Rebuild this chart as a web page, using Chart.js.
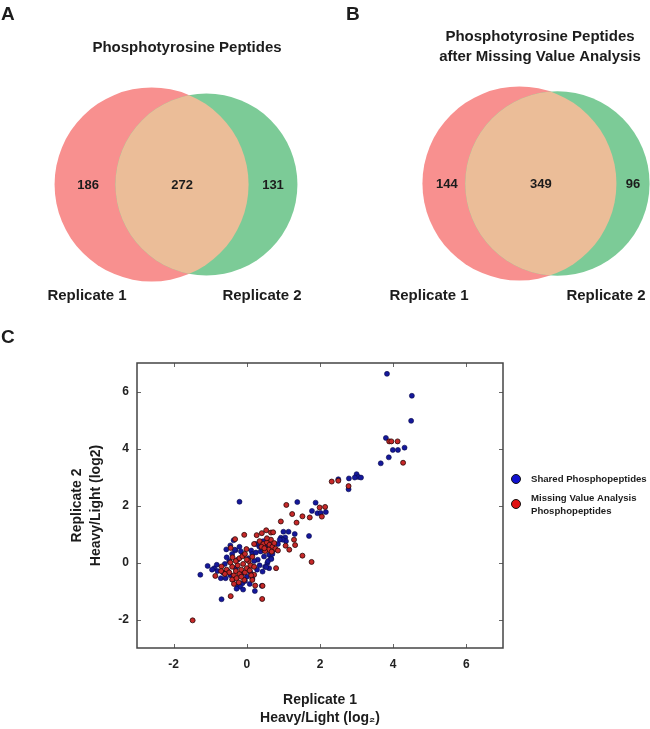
<!DOCTYPE html>
<html>
<head>
<meta charset="utf-8">
<script src="https://cdn.jsdelivr.net/npm/chart.js@4.4.1/dist/chart.umd.min.js"></script>
<style>
  body { margin: 0; background: #fff; }
  #page { position: relative; width: 650px; height: 729px; overflow: hidden; }
  canvas { position: absolute; }
</style>
</head>
<body>
<div id="page">
  <canvas id="vennA" width="325" height="320" style="left:0;top:0"></canvas>
  <canvas id="vennB" width="325" height="320" style="left:325px;top:0"></canvas>
  <canvas id="scatter" width="650" height="409" style="left:0;top:320px"></canvas>
</div>
<script>
// ---- data ----
const setNames = ["Replicate 1", "Replicate 2"];
// [only replicate 1, both, only replicate 2]
const vennCountsA = [186, 272, 131];
const vennCountsB = [144, 349, 96];
const vennTitleA = ["Phosphotyrosine Peptides"];
const vennTitleB = ["Phosphotyrosine Peptides", "after Missing Value Analysis"];

const seriesNames = ["Shared Phosphopeptides", "Missing Value Analysis\nPhosphopeptides"];
const xTicks = [-2, 0, 2, 4, 6];
const yTicks = [-2, 0, 2, 4, 6];

// replicate 1 vs replicate 2, log2 heavy/light
const sharedPts = [
  [3.83, 6.62], [4.51, 5.85], [4.49, 4.97], [3.80, 4.37], [3.99, 3.95], [4.13, 3.95], [4.31, 4.03],
  [3.88, 3.69], [3.66, 3.48], [2.79, 2.95], [2.78, 2.57], [2.50, 2.92], [3.00, 3.10], [3.05, 3.00],
  [3.12, 2.98], [2.95, 2.98], [-0.20, 2.13], [1.38, 2.12], [1.88, 2.10], [1.78, 1.81], [1.93, 1.73],
  [2.02, 1.74], [2.16, 1.77], [1.70, 0.93], [1.00, 1.08], [1.14, 1.08], [1.31, 1.00], [0.93, 0.87],
  [1.05, 0.88], [1.07, 0.75], [0.98, 0.80], [-1.27, -0.43], [-1.07, -0.12], [-0.89, -0.20],
  [-0.82, -0.08], [-0.71, -0.55], [-0.69, -1.29], [0.41, -0.82], [0.22, -1.00], [-0.26, -0.79],
  [-0.12, -0.73], [-0.18, -0.85], [-0.36, 0.78], [-0.31, 0.43], [-0.16, 0.39], [0.12, 0.42],
  [-0.55, 0.18], [-0.48, 0.05], [-0.60, -0.05], [-0.52, -0.30], [-0.45, -0.45], [-0.38, -0.60],
  [-0.30, -0.20], [-0.25, 0.10], [-0.10, 0.25], [0.05, 0.15], [0.15, 0.30], [0.25, 0.35],
  [0.34, 0.56], [0.52, 0.51], [0.38, 0.39], [0.61, 0.27], [0.47, 0.21], [0.66, 0.15], [0.56, -0.02],
  [0.61, -0.20], [0.43, -0.32], [0.30, 0.10], [0.20, 0.05], [0.35, -0.10], [0.28, -0.25],
  [0.10, -0.35], [0.00, -0.50], [-0.05, -0.65], [0.45, 0.75], [0.60, 0.70], [0.70, 0.60],
  [0.75, 0.45], [0.85, 0.65], [0.90, 0.80], [0.50, 0.60], [0.42, 0.48], [-0.80, -0.30],
  [-0.95, -0.25], [-0.65, -0.35], [-0.58, -0.55], [-0.40, 0.30], [-0.45, 0.60], [-0.20, 0.55],
  [-0.15, -0.40], [0.08, -0.75], [-0.28, -0.92], [-0.10, -0.95], [0.15, -0.55], [0.50, -0.15],
  [0.70, 0.30], [0.58, 0.05], [0.25, 0.65], [-0.56, 0.46], [-0.33, 0.45], [0.53, -0.16], [0.67, 0.12]
];
const missingPts = [
  [-1.48, -2.03], [-0.44, -1.18], [0.42, -1.28], [3.89, 4.25], [3.95, 4.25], [4.12, 4.25],
  [4.27, 3.50], [2.32, 2.84], [2.50, 2.87], [2.78, 2.68], [1.08, 2.02], [1.24, 1.70], [1.52, 1.62],
  [1.72, 1.58], [1.36, 1.40], [0.93, 1.44], [1.99, 1.93], [2.14, 1.95], [2.05, 1.61], [0.27, 0.96],
  [0.41, 1.03], [0.53, 1.13], [0.66, 1.05], [0.72, 1.06], [-0.07, 0.97], [-0.32, 0.82], [1.29, 0.80],
  [1.06, 0.59], [1.32, 0.61], [1.16, 0.45], [1.52, 0.24], [1.77, 0.02], [0.80, -0.20], [0.20, 0.65],
  [-0.44, 0.51], [-0.01, 0.47], [-0.39, 0.18], [-0.69, -0.14], [-0.86, -0.47], [-0.07, -0.61],
  [0.15, -0.61], [0.23, -0.81], [0.20, -0.43], [0.43, -0.82], [0.35, 0.75], [0.45, 0.65],
  [0.55, 0.70], [0.62, 0.62], [0.70, 0.55], [0.78, 0.48], [0.85, 0.42], [0.60, 0.45], [0.50, 0.40],
  [0.40, 0.55], [0.66, 0.80], [0.75, 0.68], [0.55, 0.85], [0.48, 0.50], [0.68, 0.38], [-0.55, -0.25],
  [-0.48, -0.35], [-0.40, -0.15], [-0.35, -0.45], [-0.30, -0.30], [-0.25, -0.10], [-0.20, -0.40],
  [-0.15, -0.25], [-0.10, -0.05], [-0.05, -0.35], [0.00, -0.20], [0.05, 0.05], [0.10, -0.10],
  [-0.30, 0.05], [-0.20, 0.15], [-0.12, 0.22], [0.00, 0.10], [0.08, -0.28], [-0.40, -0.60],
  [-0.28, -0.55], [-0.15, -0.50], [-0.22, -0.70], [0.12, -0.45], [-0.60, -0.40], [-0.70, -0.30],
  [-0.45, 0.00], [0.15, 0.20], [-0.05, 0.30], [0.20, -0.15], [-0.35, -0.75]
];

// ---- styling ----
Chart.defaults.font.family = "'Liberation Sans', Arial, Helvetica, sans-serif";
Chart.defaults.color = "#1c1c1c";
const pink = "#f8908f";
const green = "#7ccb97";
const overlap = "#ebbd98";
const ink = "#1c1c1c";

// ---- venn helpers ----
function lensArea(r1, r2, d) {
  if (d >= r1 + r2) return 0;
  if (d <= Math.abs(r1 - r2)) return Math.PI * Math.min(r1, r2) ** 2;
  const a = r1 * r1 * Math.acos((d * d + r1 * r1 - r2 * r2) / (2 * d * r1));
  const b = r2 * r2 * Math.acos((d * d + r2 * r2 - r1 * r1) / (2 * d * r2));
  const c = 0.5 * Math.sqrt((-d + r1 + r2) * (d + r1 - r2) * (d - r1 + r2) * (d + r1 + r2));
  return a + b - c;
}

// area-proportional circles, placed around a span centre
function vennLayout(counts, rMax, spanCenter, cy) {
  const s1 = counts[0] + counts[1], s2 = counts[1] + counts[2];
  const big = Math.max(s1, s2);
  const r1 = rMax * Math.sqrt(s1 / big), r2 = rMax * Math.sqrt(s2 / big);
  const target = Math.PI * r1 * r1 * counts[1] / s1;
  let lo = Math.abs(r1 - r2), hi = r1 + r2;
  for (let i = 0; i < 60; i++) {
    const mid = (lo + hi) / 2;
    if (lensArea(r1, r2, mid) > target) lo = mid; else hi = mid;
  }
  const d = (lo + hi) / 2;
  const x1 = spanCenter - (d + r2 - r1) / 2;
  return [{x: x1, y: cy, r: r1}, {x: x1 + d, y: cy, r: r2}];
}

const vennPlugin = {
  id: "venn",
  afterDatasetsDraw(chart, args, o) {
    const [a, b] = chart.getDatasetMeta(0).data;
    const ra = a.options.radius, rb = b.options.radius;
    const ctx = chart.ctx;
    ctx.save();
    ctx.beginPath();
    ctx.arc(a.x, a.y, ra, 0, Math.PI * 2);
    ctx.clip();
    ctx.beginPath();
    ctx.arc(b.x, b.y, rb, 0, Math.PI * 2);
    ctx.fillStyle = overlap;
    ctx.fill();
    ctx.restore();

    ctx.save();
    ctx.fillStyle = ink;
    ctx.textBaseline = "middle";
    ctx.textAlign = "center";
    ctx.font = "bold 13px 'Liberation Sans', Arial, sans-serif";
    const xs = [
      ((a.x - ra) + (b.x - rb)) / 2 + 3,
      ((b.x - rb) + (a.x + ra)) / 2,
      ((a.x + ra) + (b.x + rb)) / 2
    ];
    o.counts.forEach((c, i) => ctx.fillText(String(c), xs[i], a.y + 1));

    ctx.font = "bold 15px 'Liberation Sans', Arial, sans-serif";
    o.title.forEach((t, i) => ctx.fillText(t, o.titleX, o.titleY + i * 20));
    setNames.forEach((n, i) => ctx.fillText(n, o.nameX[i], 296));

    ctx.textAlign = "left";
    ctx.textBaseline = "alphabetic";
    ctx.font = "bold 19px 'Liberation Sans', Arial, sans-serif";
    ctx.fillText(o.letter, o.letterX, 20);
    ctx.restore();
  }
};

function makeVenn(id, counts, title, place) {
  const circles = vennLayout(counts, 97, place.cx, place.cy);
  return new Chart(document.getElementById(id), {
    type: "bubble",
    data: {
      datasets: [{
        data: circles,
        backgroundColor: [pink, green],
        borderWidth: 0,
        hoverRadius: 0,
        clip: false
      }]
    },
    options: {
      responsive: false,
      animation: false,
      events: [],
      layout: { padding: 0, autoPadding: false },
      plugins: {
        legend: { display: false },
        tooltip: { enabled: false },
        venn: {
          counts: counts, title: title, letter: place.letter, letterX: place.letterX,
          titleX: place.titleX, titleY: place.titleY, nameX: place.nameX
        }
      },
      scales: {
        x: { display: false, min: 0, max: 325 },
        y: { display: false, min: 0, max: 320, reverse: true }
      }
    },
    plugins: [vennPlugin]
  });
}

makeVenn("vennA", vennCountsA, vennTitleA,
  { cx: 176, cy: 184.5, letter: "A", letterX: 1, titleX: 187, titleY: 48, nameX: [87, 262] });
makeVenn("vennB", vennCountsB, vennTitleB,
  { cx: 211, cy: 183.5, letter: "B", letterX: 21, titleX: 215, titleY: 37, nameX: [104, 281] });

// ---- scatter ----
const framePlugin = {
  id: "frame",
  afterDraw(chart) {
    const { ctx, chartArea: a, scales } = chart;
    ctx.save();
    ctx.strokeStyle = "#666";
    ctx.lineWidth = 1;
    const t = 4;
    xTicks.forEach(v => {
      const px = Math.round(scales.x.getPixelForValue(v)) + 0.5;
      ctx.beginPath();
      ctx.moveTo(px, a.bottom); ctx.lineTo(px, a.bottom - t);
      ctx.moveTo(px, a.top); ctx.lineTo(px, a.top + t);
      ctx.stroke();
    });
    yTicks.forEach(v => {
      const py = Math.round(scales.y.getPixelForValue(v)) + 0.5;
      ctx.beginPath();
      ctx.moveTo(a.left, py); ctx.lineTo(a.left + t, py);
      ctx.moveTo(a.right, py); ctx.lineTo(a.right - t, py);
      ctx.stroke();
    });
    ctx.strokeStyle = "#444";
    ctx.lineWidth = 1.5;
    ctx.strokeRect(a.left, a.top, a.right - a.left, a.bottom - a.top);

    // legend
    const lx = a.right + 13;
    chart.data.datasets.forEach((ds, i) => {
      const cy = a.top + 116 + i * 25;
      ctx.beginPath();
      ctx.arc(lx, cy, 4.5, 0, Math.PI * 2);
      ctx.fillStyle = ds.legendColor;
      ctx.fill();
      ctx.lineWidth = 1;
      ctx.strokeStyle = "#111";
      ctx.stroke();
      ctx.fillStyle = ink;
      ctx.font = "bold 9.6px 'Liberation Sans', Arial, sans-serif";
      ctx.textBaseline = "middle";
      ctx.textAlign = "left";
      const lines = ds.label.split("\n");
      lines.forEach((ln, k) => {
        ctx.fillText(ln, lx + 15, cy + (k - (lines.length - 1) / 2) * 13 + 0.5);
      });
    });

    ctx.font = "bold 19px 'Liberation Sans', Arial, sans-serif";
    ctx.textBaseline = "alphabetic";
    ctx.fillText("C", 1, 23);
    ctx.restore();
  }
};

const tickFont = { size: 12, weight: "bold" };
const titleFont = { size: 14, weight: "bold", lineHeight: 1.32 };

new Chart(document.getElementById("scatter"), {
  type: "scatter",
  data: {
    datasets: [
      {
        label: seriesNames[0],
        data: sharedPts.map(p => ({ x: p[0], y: p[1] })),
        backgroundColor: "#14189a",
        borderColor: "#0a0a48",
        borderWidth: 0.6,
        pointRadius: 2.5,
        legendColor: "#1010d0",
        order: 2
      },
      {
        label: seriesNames[1],
        data: missingPts.map(p => ({ x: p[0], y: p[1] })),
        backgroundColor: "#c62828",
        borderColor: "#2a0808",
        borderWidth: 0.8,
        pointRadius: 2.5,
        legendColor: "#e01010",
        order: 1
      }
    ]
  },
  options: {
    responsive: false,
    animation: false,
    events: [],
    layout: { padding: { left: 0, top: 43, right: 147, bottom: 0 } },
    plugins: { legend: { display: false }, tooltip: { enabled: false } },
    scales: {
      x: {
        type: "linear", min: -3, max: 7,
        afterBuildTicks: s => { s.ticks = xTicks.map(v => ({ value: v })); },
        afterFit: s => { s.height = 81; },
        grid: { display: false, drawTicks: false },
        border: { display: false },
        ticks: { padding: 9, font: tickFont, color: "#222" },
        title: {
          display: true, text: ["Replicate 1", "Heavy/Light (log\u2082)"],
          font: titleFont, color: ink, padding: { top: 0, bottom: 1.25 }
        }
      },
      y: {
        type: "linear", min: -3, max: 7,
        afterBuildTicks: s => { s.ticks = yTicks.map(v => ({ value: v })); },
        afterFit: s => { s.width = 137; },
        grid: { display: false, drawTicks: false },
        border: { display: false },
        ticks: { padding: 8, font: tickFont, color: "#222" },
        title: {
          display: true, text: ["Replicate 2", "Heavy/Light (log2)"],
          font: titleFont, color: ink, padding: { top: 68.25, bottom: 0 }
        }
      }
    }
  },
  plugins: [framePlugin]
});
</script>
</body>
</html>
